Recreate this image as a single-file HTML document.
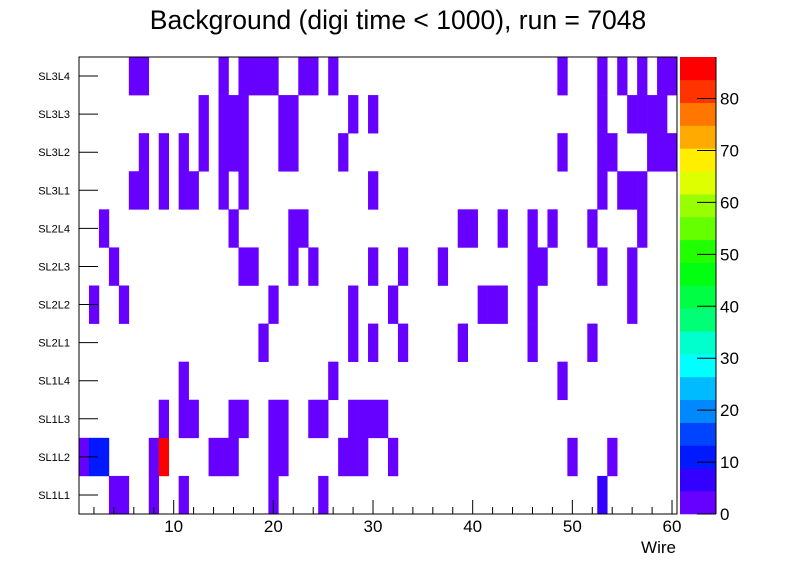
<!DOCTYPE html>
<html><head><meta charset="utf-8"><style>
html,body{margin:0;padding:0;background:#fff;}
svg{display:block;font-family:"Liberation Sans",sans-serif;}
</style></head><body>
<svg id="chart" width="796" height="572" viewBox="0 0 796 572" xmlns="http://www.w3.org/2000/svg">
<rect x="0" y="0" width="796" height="572" fill="#fff"/>
<text x="398" y="29" font-size="26.5" text-anchor="middle" fill="#000">Background (digi time &lt; 1000), run = 7048</text>
<g id="cells"></g>
<g id="axes"></g>
<g id="cbar"></g>
<text x="676" y="553" font-size="17" text-anchor="end" fill="#000">Wire</text>
</svg>
<script>
const layers = ["SL1L1","SL1L2","SL1L3","SL1L4","SL2L1","SL2L2","SL2L3","SL2L4","SL3L1","SL3L2","SL3L3","SL3L4"];
const xTicks = [10,20,30,40,50,60];
const zTicks = [0,10,20,30,40,50,60,70,80];
const zMax = 88;
const palette = ["#6600ff","#3300ff","#0019ff","#0044ff","#0088ff","#00bbff","#00ffff","#00ffcc","#00ff77","#00ff44","#00ff11","#22ff00","#66ff00","#99ff00","#ddff00","#ffee00","#ffaa00","#ff7700","#ff3300","#ff0000"];
// hits per layer: [wire, count]
const hitsSL1L1 = [[4,2],[5,2],[8,2],[11,2],[20,2],[25,2],[53,6]];
const hitsSL1L2 = [[1,3],[2,10],[3,10],[8,2],[9,88],[14,2],[15,2],[16,2],[20,2],[21,2],[27,2],[28,2],[29,2],[32,2],[50,2],[54,2]];
const hitsSL1L3 = [[9,2],[11,2],[12,2],[16,2],[17,2],[20,2],[21,2],[24,2],[25,2],[28,2],[29,2],[30,2],[31,2]];
const hitsSL1L4 = [[11,2],[26,2],[49,2]];
const hitsSL2L1 = [[19,2],[28,2],[30,2],[33,2],[39,2],[46,2],[52,2]];
const hitsSL2L2 = [[2,2],[5,2],[20,2],[28,2],[32,2],[41,2],[42,2],[43,2],[46,2],[56,2]];
const hitsSL2L3 = [[4,2],[17,2],[18,2],[22,2],[24,2],[30,2],[33,2],[37,2],[46,2],[47,2],[53,2],[56,2]];
const hitsSL2L4 = [[3,2],[16,2],[22,2],[23,2],[39,2],[40,2],[43,2],[46,2],[48,2],[52,2],[57,2]];
const hitsSL3L1 = [[6,2],[7,2],[9,2],[11,2],[12,2],[15,2],[17,2],[30,2],[53,2],[55,2],[56,2],[57,2]];
const hitsSL3L2 = [[7,2],[9,2],[11,2],[13,2],[15,2],[16,2],[17,2],[21,2],[22,2],[27,2],[49,2],[53,2],[54,2],[58,2],[59,2],[60,2]];
const hitsSL3L3 = [[13,2],[15,2],[16,2],[17,2],[21,2],[22,2],[28,2],[30,2],[53,2],[56,2],[57,2],[58,2],[59,2]];
const hitsSL3L4 = [[6,2],[7,2],[15,2],[17,2],[18,2],[19,2],[20,2],[23,2],[24,2],[26,2],[49,2],[53,2],[55,2],[57,2],[59,2],[60,2]];
const hits = [hitsSL1L1,hitsSL1L2,hitsSL1L3,hitsSL1L4,hitsSL2L1,hitsSL2L2,hitsSL2L3,hitsSL2L4,hitsSL3L1,hitsSL3L2,hitsSL3L3,hitsSL3L4];

const NS="http://www.w3.org/2000/svg";
const L=79,R=677,T=57,B=514;
const xMin=0.5,xMax=60.5;
const xs=v=>L+(v-xMin)/(xMax-xMin)*(R-L);
const rowH=(B-T)/layers.length;
const ys=i=>B-(i+1)*rowH;
const CBL=680,CBR=716;
const zs=v=>B-v/zMax*(B-T);
function mk(tag,attrs,parent){const e=document.createElementNS(NS,tag);for(const k in attrs)e.setAttribute(k,attrs[k]);parent.appendChild(e);return e;}
const colorOf=v=>palette[Math.min(palette.length-1,Math.floor(v/zMax*palette.length))];

const gC=document.getElementById('cells');
hits.forEach((row,i)=>{row.forEach(([w,c])=>{
  const r=mk('rect',{x:xs(w-0.5),y:ys(i),width:xs(w+0.5)-xs(w-0.5)+0.3,height:rowH+0.3,fill:colorOf(c)},gC);
  
  
});});

const gA=document.getElementById('axes');
const fr=mk('rect',{x:L,y:T,width:R-L,height:B-T,fill:'none',stroke:'#000','stroke-width':1},gA);


for(let v=2;v<=60;v+=2){
  const major=v%10===0;
  mk('line',{x1:xs(v),x2:xs(v),y1:B,y2:B-(major?14:7),stroke:'#000'},gA);
}
xTicks.forEach(v=>{
  const t=mk('text',{x:xs(v),y:532,'font-size':17,'text-anchor':'middle',fill:'#000'},gA);
  t.textContent=v;
  
  
});
layers.forEach((n,i)=>{
  const yc=ys(i)+rowH/2;
  mk('line',{x1:L,x2:L+19,y1:yc,y2:yc,stroke:'#000'},gA);
  const t=mk('text',{x:70,y:yc+4,'font-size':11,'text-anchor':'end',fill:'#000'},gA);
  t.textContent=n;
  
  
});

const gB=document.getElementById('cbar');
palette.forEach((c,k)=>{
  const r=mk('rect',{x:CBL,y:zs((k+1)*zMax/palette.length),width:CBR-CBL,height:(B-T)/palette.length+0.3,fill:c},gB);
  
  
});
mk('line',{x1:CBR,x2:CBR,y1:T,y2:B,stroke:'#000'},gB);
zTicks.forEach(v=>{
  mk('line',{x1:CBR-19,x2:CBR,y1:zs(v),y2:zs(v),stroke:'#000'},gB);
  const t=mk('text',{x:720,y:zs(v)+6,'font-size':17,fill:'#000'},gB);
  t.textContent=v;
  
  
});
</script>
</body></html>
